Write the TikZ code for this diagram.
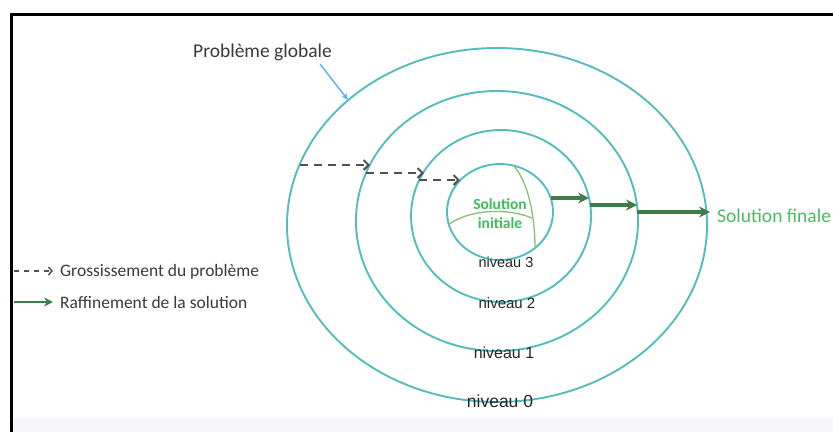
\documentclass[tikz,border=0pt]{standalone}
\usepackage{fontspec}
\setmainfont{Carlito}
\newfontfamily\arialf{Liberation Sans}
\usetikzlibrary{arrows.meta,shapes.geometric}

\definecolor{ringteal}{RGB}{84,188,190}
\definecolor{refgreen}{RGB}{62,124,72}
\definecolor{labgreen}{RGB}{78,184,100}
\definecolor{initgreen}{RGB}{60,190,90}
\definecolor{palegreen}{RGB}{140,188,118}
\definecolor{growgrey}{RGB}{80,80,80}
\definecolor{txtgrey}{RGB}{58,58,58}
\definecolor{pointblue}{RGB}{88,178,232}
\definecolor{bandgrey}{RGB}{245,247,252}

\tikzset{
  ring/.style={draw=ringteal, line width=1.9pt, ellipse, inner sep=0pt, outer sep=0pt},
  coarsen/.style={draw=growgrey, line width=2pt, dash pattern=on 8pt off 6pt,
    -{Straight Barb[length=5pt,width=10pt]}},
  refinestep/.style={draw=refgreen, line width=3.2pt, -{Stealth[length=11pt,width=11pt]}},
  lvltxt/.style={font=\arialf\fontsize{#1}{#1}\selectfont, text=black!85, inner sep=0pt},
  legendtxt/.style={font=\fontsize{17.5}{18}\selectfont, text=txtgrey, inner sep=0pt, anchor=base west},
  solcurve/.style={draw=palegreen, line width=1.3pt},
}

\begin{document}
\begin{tikzpicture}[x=1pt,y=-1pt]
\useasboundingbox (0,0) rectangle (833,432);

% page frame and footer band
\fill[bandgrey] (13,418) rectangle (833,432);
\draw[line width=3pt] (11.5,432) -- (11.5,14) -- (833,14);

% nested levels
\node[ring, minimum width=420pt, minimum height=354pt] (lvl0) at (497,225) {};
\node[ring, minimum width=282pt, minimum height=260pt] (lvl1) at (497,221) {};
\node[ring, minimum width=180pt, minimum height=172pt] (lvl2) at (501,216) {};
\node[ring, minimum width=106pt, minimum height=96pt]  (lvl3) at (500,212) {};

\node[lvltxt=17.5] (n0) at (500,401) {niveau 0};
\node[lvltxt=16]   (n1) at (504,353) {niveau 1};
\node[lvltxt=15]   (n2) at (507,303) {niveau 2};
\node[lvltxt=14.5] (n3) at (506,262) {niveau 3};

% initial solution inside the innermost level
\draw[solcurve] (448,225) .. controls (468,210) and (505,207) .. (532,218);
\draw[solcurve] (513,165) .. controls (527,180) and (535,212) .. (535,249);
\node[font=\bfseries\fontsize{15.5}{15.5}\selectfont, text=initgreen, align=center, inner sep=0pt]
  (solinit) at (500,213.5) {Solution\\[3pt]initiale};

% coarsening steps
\coordinate (g0s) at (300,165); \coordinate (g0e) at (370,165);
\coordinate (g1s) at (366,173); \coordinate (g1e) at (424,173);
\coordinate (g2s) at (419,180); \coordinate (g2e) at (460,180);
\draw[coarsen] (g0s) -- (g0e);
\draw[coarsen] (g1s) -- (g1e);
\draw[coarsen] (g2s) -- (g2e);

% refinement steps
\coordinate (r3s) at (551,198); \coordinate (r3e) at (589,198);
\coordinate (r2s) at (590,205); \coordinate (r2e) at (637,205);
\coordinate (r1s) at (637,212); \coordinate (r1e) at (710,212);
\draw[refinestep] (r3s) -- (r3e);
\draw[refinestep] (r2s) -- (r2e);
\draw[refinestep] (r1s) -- (r1e);

\node[font=\fontsize{19.5}{20}\selectfont, text=labgreen, inner sep=0pt, anchor=base west]
  (solfin) at (717,222) {Solution finale};

% global problem label
\node[font=\fontsize{19.5}{20}\selectfont, text=txtgrey, inner sep=0pt, anchor=base west]
  (pglob) at (193,57.5) {Problème globale};
\coordinate (pgtip) at (348,100);
\draw[pointblue, line width=1.4pt, -{Stealth[length=7pt,width=6pt]}]
  ([xshift=-12pt,yshift=-3pt]pglob.south east) -- (pgtip);

% legend
\coordinate (lg1s) at (14,271); \coordinate (lg1e) at (53,271);
\coordinate (lg2s) at (14,302); \coordinate (lg2e) at (53,302);
\draw[draw=growgrey, line width=1.5pt, dash pattern=on 5pt off 5pt,
  -{Straight Barb[length=3.5pt,width=8pt]}] (lg1s) -- (lg1e);
\draw[draw=refgreen, line width=2.4pt, -{Stealth[length=9pt,width=9pt]}] (lg2s) -- (lg2e);
\node[legendtxt] (lgt1) at (60,276) {Grossissement du problème};
\node[legendtxt] (lgt2) at (60,308) {Raffinement de la solution};
\end{tikzpicture}
\end{document}
